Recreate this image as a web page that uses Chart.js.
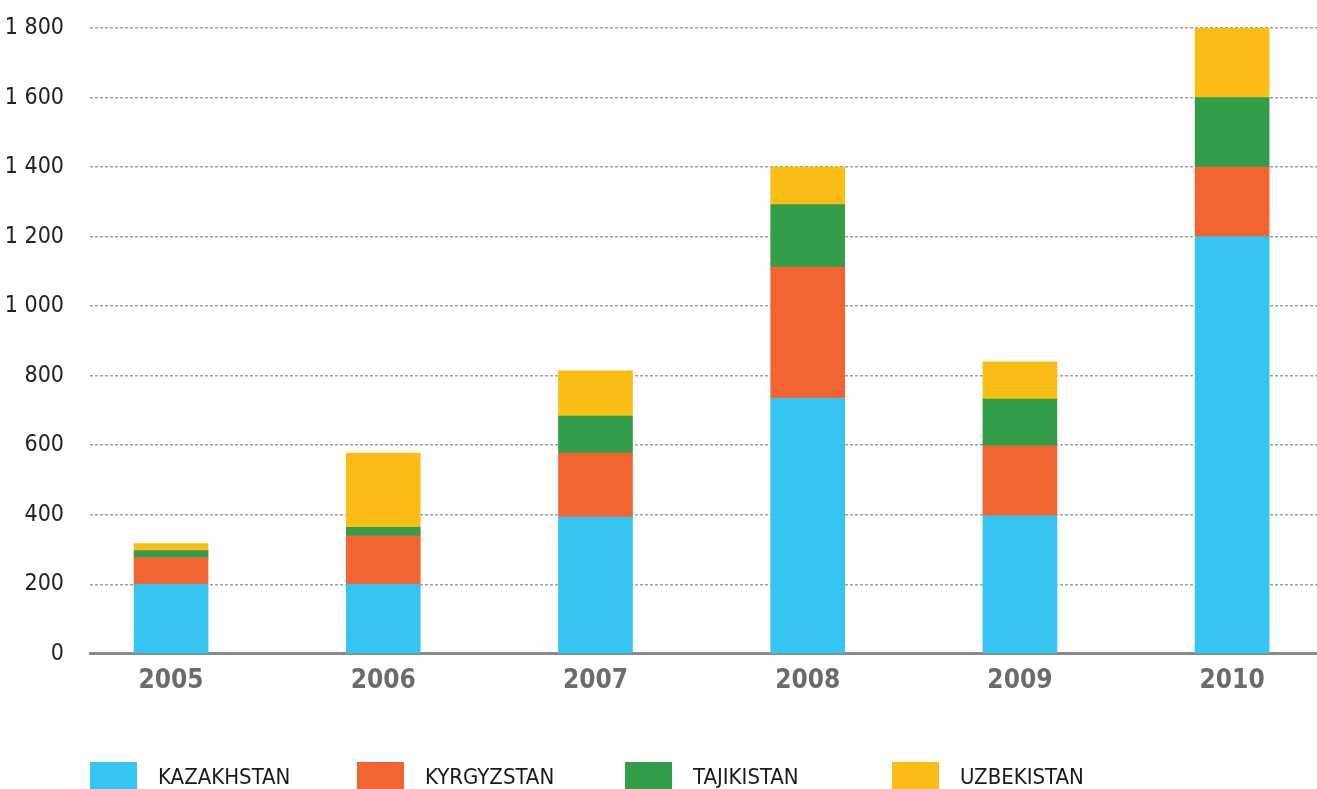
<!DOCTYPE html>
<html>
<head>
<meta charset="utf-8">
<script src="https://cdn.jsdelivr.net/npm/chart.js@4/dist/chart.umd.min.js"></script>
<style>
  html, body { margin:0; padding:0; background:#fff; }
  #wrap { position:relative; width:1317px; height:789px; overflow:hidden; }
  #legend { position:absolute; left:0; top:762px; width:1317px; height:28px;
    font-family:"Liberation Sans Narrow","DejaVu Sans Condensed",sans-serif; font-size:22px; color:#1a1a1a; }
  .item { position:absolute; top:0; height:28px; display:flex; align-items:center; }
  .box { width:47px; height:28px; margin-right:21px; }
</style>
</head>
<body>
<div id="wrap">
  <canvas id="c" width="1317" height="789"></canvas>
  <div id="legend"></div>
</div>
<script>
const years = [2005, 2006, 2007, 2008, 2009, 2010];
const seriesNames = ["KAZAKHSTAN", "KYRGYZSTAN", "TAJIKISTAN", "UZBEKISTAN"];
const kazakhstan = [200, 200, 393, 735, 397, 1200];
const kyrgyzstan = [77, 139, 184, 377, 201, 200];
const tajikistan = [20, 25, 107, 180, 135, 200];
const uzbekistan = [20, 213, 130, 108, 107, 200];
const yTicks = [0, 200, 400, 600, 800, 1000, 1200, 1400, 1600, 1800];
const colors = ["#36c5f0", "#f26533", "#339e4a", "#f9bd16"];

const seriesValues = [kazakhstan, kyrgyzstan, tajikistan, uzbekistan];
const FONT = '"Liberation Sans Narrow","DejaVu Sans Condensed",sans-serif';

const datasets = seriesNames.map((name, k) => ({
  label: name,
  data: years.map((yr, i) => ({ x: yr, y: seriesValues[k][i] })),
  backgroundColor: colors[k],
  borderWidth: 0,
  barThickness: 74
}));

function fmt(v) { return String(v).replace(/\B(?=(\d{3})+(?!\d))/g, " "); }

new Chart(document.getElementById("c"), {
  type: "bar",
  data: { datasets },
  options: {
    responsive: false,
    animation: false,
    layout: { padding: { top: 28, right: 0, bottom: 80, left: 0 } },
    plugins: { legend: { display: false }, tooltip: { enabled: false } },
    scales: {
      x: {
        type: "linear",
        stacked: true,
        offset: false,
        min: 2004.618,
        max: 2010.4,
        afterBuildTicks: s => { s.ticks = years.map(v => ({ value: v })); },
        afterFit: s => { s.paddingLeft = 0; s.paddingRight = 0; },
        grid: { display: false, drawTicks: false, offset: false },
        border: { display: true, color: "#8a8a8a", width: 3 },
        ticks: {
          padding: 12,
          color: "#6b6b6b",
          font: { family: FONT, size: 26, weight: "bold" },
          callback: v => String(v)
        }
      },
      y: {
        stacked: true,
        min: 0,
        max: 1800,
        afterBuildTicks: s => { s.ticks = yTicks.map(v => ({ value: v })); },
        afterFit: s => { s.width = 90; s.paddingTop = 0; s.paddingBottom = 0; },
        grid: { color: "#a0a0a0", lineWidth: 1.5, drawTicks: false },
        border: { display: false, dash: [3, 2] },
        ticks: {
          padding: 26,
          color: "#222",
          font: { family: FONT, size: 23 },
          callback: v => fmt(v)
        }
      }
    }
  }
});

const lg = document.getElementById("legend");
const lefts = [90, 357, 625, 892];
seriesNames.forEach((n, k) => {
  const it = document.createElement("div");
  it.className = "item";
  it.style.left = lefts[k] + "px";
  it.innerHTML = '<div class="box" style="background:' + colors[k] + '"></div><span>' + n + '</span>';
  lg.appendChild(it);
});
</script>
</body>
</html>
